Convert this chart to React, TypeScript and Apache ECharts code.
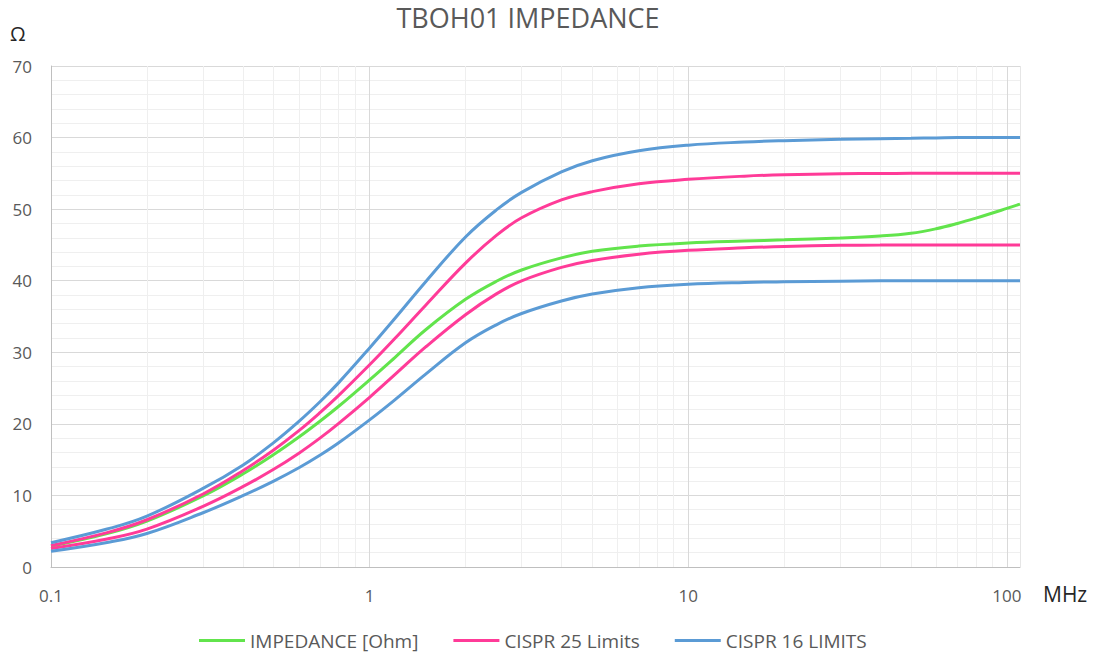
import React, { useEffect, useRef } from "react";
import * as echarts from "echarts";

const freqs = [0.1, 0.15, 0.2, 0.3, 0.4, 0.5, 0.6, 0.7, 0.8, 1, 1.2, 1.5, 2, 2.5, 3, 4, 5, 7, 10, 15, 20, 30, 40, 50, 60, 70, 80, 100, 110];

const impedance = [2.9, 4.66, 6.41, 9.93, 12.99, 15.71, 18.16, 20.4, 22.46, 26.15, 29.27, 33.15, 37.4, 39.92, 41.5, 43.19, 44.11, 44.84, 45.27, 45.55, 45.71, 45.96, 46.24, 46.63, 47.26, 48.0, 48.75, 50.1, 50.7];
const cispr25Upper = [3.0, 4.8, 6.6, 10.2, 13.45, 16.36, 19.05, 21.6, 23.98, 28.25, 31.92, 36.58, 42.46, 46.34, 48.79, 51.29, 52.45, 53.55, 54.17, 54.61, 54.8, 54.94, 54.98, 55, 55, 55, 55, 55, 55];
const cispr25Lower = [2.6, 3.92, 5.3, 8.47, 11.22, 13.65, 15.9, 18.04, 20.07, 23.71, 26.87, 30.75, 35.25, 38.16, 39.98, 41.86, 42.83, 43.7, 44.24, 44.59, 44.78, 44.94, 44.98, 45, 45, 45, 45, 45, 45];
const cispr16Upper = [3.4, 5.3, 7.11, 10.98, 14.23, 17.38, 20.34, 23.12, 25.76, 30.61, 34.72, 39.86, 46.11, 49.89, 52.34, 55.2, 56.77, 58.16, 58.94, 59.38, 59.57, 59.75, 59.85, 59.9, 59.95, 60, 60, 60, 60];
const cispr16Lower = [2.2, 3.43, 4.68, 7.58, 9.96, 12.0, 13.86, 15.64, 17.35, 20.55, 23.35, 26.94, 31.32, 33.84, 35.42, 37.17, 38.14, 39.02, 39.49, 39.75, 39.85, 39.94, 39.98, 40, 40, 40, 40, 40, 40];

const xTickLabels = [0.1, 1, 10, 100];
const minorFreqs = [0.2, 0.3, 0.4, 0.5, 0.6, 0.7, 0.8, 0.9, 2, 3, 4, 5, 6, 7, 8, 9, 20, 30, 40, 50, 60, 70, 80, 90];
const majorFreqs = [1, 10, 100];
const xMax = 110;

const seriesNames = ["IMPEDANCE [Ohm]", "CISPR 25 Limits", "CISPR 16 LIMITS"];
const colors = ["#62e44c", "#ff3b98", "#5b9bd5"];

const FONT = "'Open Sans', sans-serif";

export default function App() {
  const ref = useRef<HTMLDivElement>(null);
  useEffect(() => {
    document.body.style.margin = "0";
    const chart = echarts.init(ref.current!, null, { renderer: "svg" });
    const pts = (arr: number[]) => freqs.map((f, i) => [f, arr[i]]);
    const lineSeries = (name: string, arr: number[], color: string) => ({
      name,
      type: "line",
      data: pts(arr),
      smooth: 0.4,
      showSymbol: false,
      symbol: "none",
      lineStyle: { color, width: 3 },
      itemStyle: { color },
      z: 3,
    });
    const markLines = [
      ...minorFreqs.map((v) => ({ xAxis: v, lineStyle: { color: "#efefef", width: 1, type: "solid" } })),
      ...majorFreqs.map((v) => ({ xAxis: v, lineStyle: { color: "#d9d9d9", width: 1, type: "solid" } })),
      { xAxis: xMax, lineStyle: { color: "#e6e6e6", width: 1, type: "solid" } },
    ];
    chart.setOption({
      animation: false,
      textStyle: { fontFamily: FONT },
      title: {
        text: "TBOH01 IMPEDANCE",
        left: 528,
        textAlign: "center",
        top: 4,
        padding: 0,
        textStyle: { fontFamily: FONT, fontSize: 27, fontWeight: "normal", color: "#595959" },
      },
      grid: { left: 51, right: 73, top: 66, bottom: 90, containLabel: false },
      legend: {
        data: seriesNames,
        left: 199,
        top: 631,
        padding: 0,
        icon: "rect",
        itemWidth: 46,
        itemHeight: 3,
        itemGap: 35,
        textStyle: { fontFamily: FONT, fontSize: 19, color: "#595959" },
      },
      graphic: [
        { type: "text", left: 10, top: 23, style: { text: "Ω", fontFamily: FONT, fontSize: 20, fill: "#262626" } },
        { type: "text", left: 1043, top: 583, style: { text: "MHz", fontFamily: FONT, fontSize: 21, fill: "#262626" } },
      ],
      xAxis: {
        type: "log",
        logBase: 10,
        min: 0.1,
        max: xMax,
        axisLine: { show: true, lineStyle: { color: "#bfbfbf", width: 1 } },
        axisTick: { show: false },
        splitLine: { show: false },
        axisLabel: {
          margin: 20,
          color: "#595959",
          fontSize: 17,
          fontFamily: FONT,
          showMaxLabel: false,
          formatter: (v: number) => {
            const hit = xTickLabels.find((t) => Math.abs(Math.log10(v) - Math.log10(t)) < 1e-6);
            return hit !== undefined ? String(hit) : "";
          },
        },
      },
      yAxis: {
        type: "value",
        min: 0,
        max: 70,
        interval: 10,
        axisLine: { show: true, lineStyle: { color: "#bfbfbf", width: 1 } },
        axisTick: { show: false },
        axisLabel: { margin: 19, color: "#595959", fontSize: 17, fontFamily: FONT },
        splitLine: { show: true, lineStyle: { color: "#d9d9d9", width: 1 } },
        minorTick: { show: false, splitNumber: 5 },
        minorSplitLine: { show: true, lineStyle: { color: "#efefef", width: 1 } },
      },
      series: [
        {
          name: "_grid",
          type: "line",
          data: [],
          z: 1,
          silent: true,
          markLine: { silent: true, symbol: ["none", "none"], label: { show: false }, z: 1, data: markLines },
        },
        lineSeries(seriesNames[0], impedance, colors[0]),
        lineSeries(seriesNames[1], cispr25Upper, colors[1]),
        lineSeries(seriesNames[1], cispr25Lower, colors[1]),
        lineSeries(seriesNames[2], cispr16Upper, colors[2]),
        lineSeries(seriesNames[2], cispr16Lower, colors[2]),
      ],
    });
    return () => chart.dispose();
  }, []);
  return <div ref={ref} style={{ width: 1093, height: 657 }} />;
}
